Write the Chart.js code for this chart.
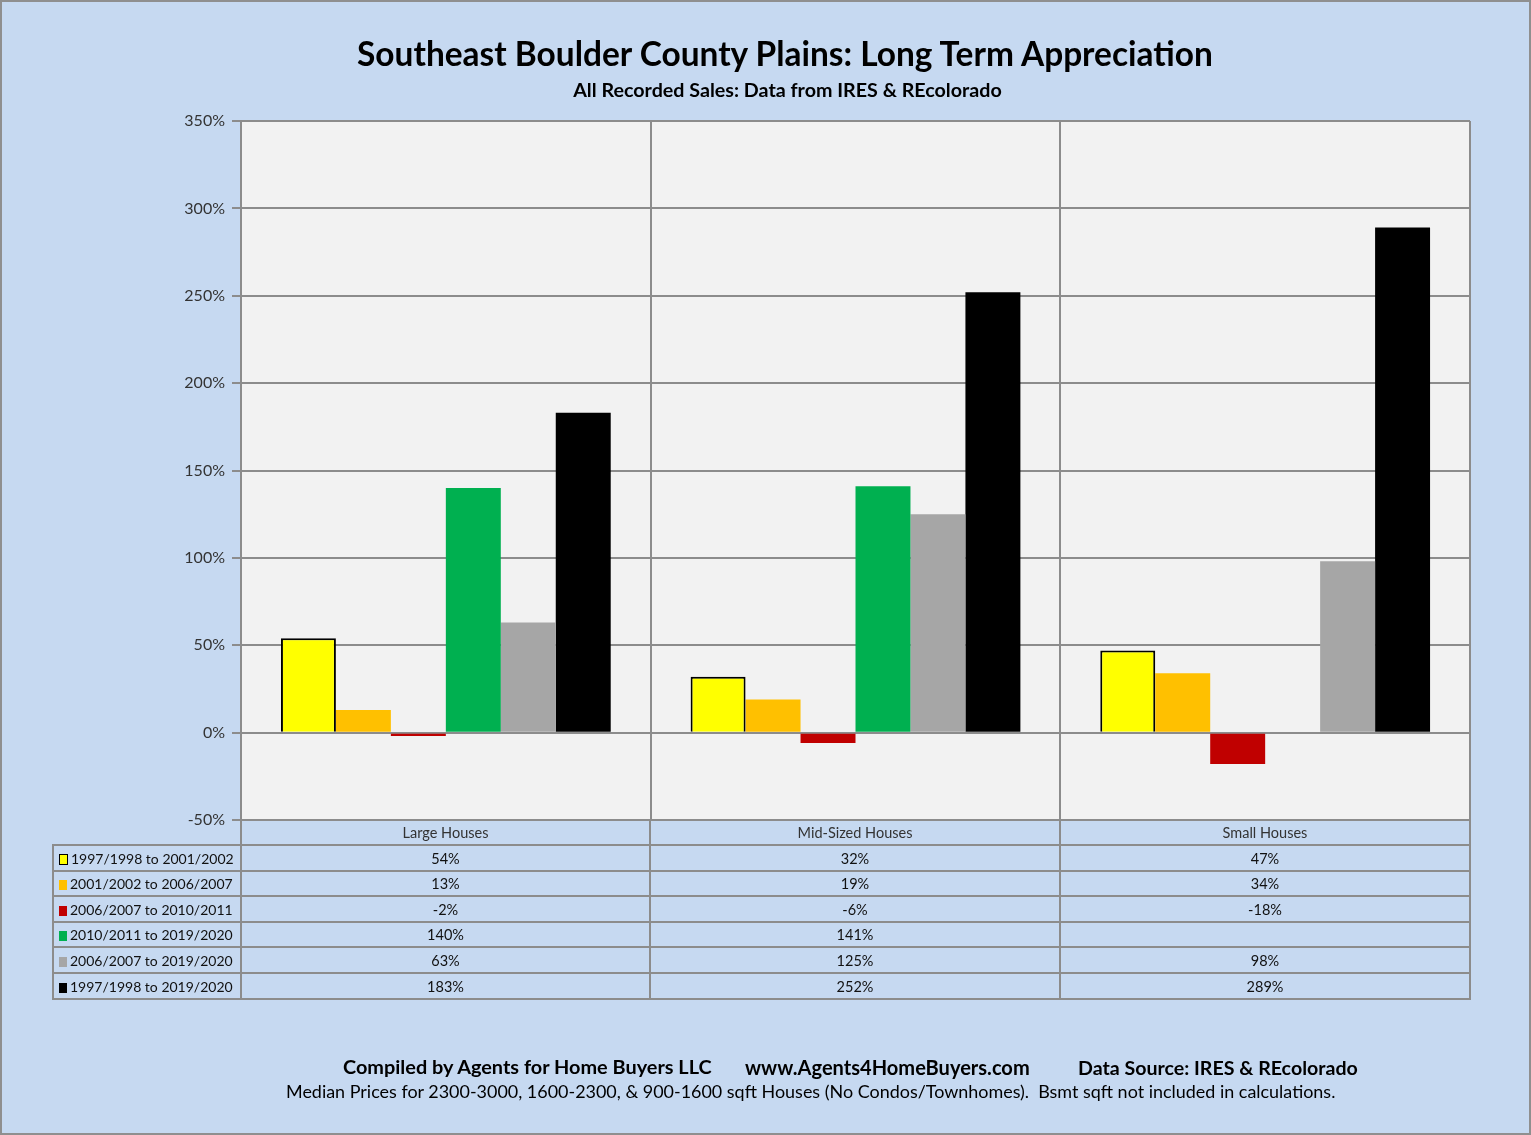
<!DOCTYPE html>
<html lang="en">
<head>
<meta charset="UTF-8">
<title>Southeast Boulder County Plains: Long Term Appreciation</title>
<script src="https://cdn.jsdelivr.net/npm/chart.js@4.4.1/dist/chart.umd.min.js"></script>
<style>
  html, body { margin: 0; padding: 0; }
  body { width: 1531px; height: 1135px; overflow: hidden; position: relative;
         font-family: Lato, "Open Sans", sans-serif; }
  #frame { position: absolute; left: 0; top: 0; width: 1531px; height: 1135px;
           box-sizing: border-box; border: 2px solid #8f8f8f; background: #c6d9f1; }
  #chart { position: absolute; left: 0; top: 0; }
  .txt { position: absolute; white-space: nowrap; line-height: 1; color: #000; }
  .bold { font-weight: bold; }

  #dataTable { position: absolute; left: 52px; top: 819px; border-collapse: collapse;
               table-layout: fixed; font-size: 14.5px; color: #111; }
  #dataTable td, #dataTable th { border: 2px solid #8c8c8c; padding: 0; text-align: center;
               font-weight: normal; white-space: nowrap; }
  #dataTable th { color: #333; }
  #dataTable th.blank { border-left: hidden; border-top: hidden; }
  #dataTable td.lbl { text-align: left; padding-left: 5px; font-size: 14px; }
  .key { display: inline-block; width: 8px; height: 10px; margin-right: 3px; vertical-align: -1px; box-sizing: border-box; }
</style>
</head>
<body>
<div id="frame"></div>
<canvas id="chart" width="1531" height="1135"></canvas>

<div class="txt bold" id="title">Southeast Boulder County Plains: Long Term Appreciation</div>
<div class="txt bold" id="subtitle">All Recorded Sales: Data from IRES &amp; REcolorado</div>

<table id="dataTable"></table>

<div class="txt bold" id="foot1">Compiled by Agents for Home Buyers LLC</div>
<div class="txt bold" id="foot2">www.Agents4HomeBuyers.com</div>
<div class="txt bold" id="foot3">Data Source: IRES &amp; REcolorado</div>
<div class="txt" id="foot4">Median Prices for 2300-3000, 1600-2300, &amp; 900-1600 sqft Houses (No Condos/Townhomes).&nbsp; Bsmt sqft not included in calculations.</div>

<script>
  // categories and series (percent appreciation)
  var categories = ["Large Houses", "Mid-Sized Houses", "Small Houses"];
  var seriesNames = [
    "1997/1998 to 2001/2002",
    "2001/2002 to 2006/2007",
    "2006/2007 to 2010/2011",
    "2010/2011 to 2019/2020",
    "2006/2007 to 2019/2020",
    "1997/1998 to 2019/2020"
  ];
  var s9802 = [54, 32, 47];
  var s0207 = [13, 19, 34];
  var s0711 = [-2, -6, -18];
  var s1120 = [140, 141, null];
  var s0720 = [63, 125, 98];
  var s9820 = [183, 252, 289];
  var seriesValues = [s9802, s0207, s0711, s1120, s0720, s9820];

  var yTicks = [-50, 0, 50, 100, 150, 200, 250, 300, 350];

  var seriesColors = ["#ffff00", "#ffc000", "#c00000", "#00b050", "#a6a6a6", "#000000"];

  // plot area edges in page pixels
  var plotLeft = 241, plotRight = 1470, plotTop = 121, plotBottom = 820;
  var gridColor = "#8c8c8c";

  // text placement helpers
  function fitWidth(id, w) {
    var el = document.getElementById(id);
    var fs = parseFloat(getComputedStyle(el).fontSize);
    el.style.fontSize = (fs * w / el.getBoundingClientRect().width) + "px";
    return el;
  }
  function place(id, opts) {
    var el = document.getElementById(id);
    el.style.fontSize = opts.size + "px";
    if (opts.width) fitWidth(id, opts.width);
    var fs = parseFloat(el.style.fontSize);
    var w = el.getBoundingClientRect().width;
    var left = opts.center !== undefined ? opts.center - w / 2 : opts.left;
    el.style.left = left + "px";
    el.style.top = (opts.baseline - 0.887 * fs) + "px";
  }

  place("title", { size: 32, width: 856, center: 785, baseline: 67 });
  place("subtitle", { size: 18, width: 429, center: 787.5, baseline: 97 });
  place("foot1", { size: 18, width: 369, left: 343, baseline: 1075 });
  place("foot2", { size: 18, width: 285, left: 745, baseline: 1075 });
  place("foot3", { size: 18, width: 280, left: 1078, baseline: 1075 });
  place("foot4", { size: 17, width: 1050, left: 286, baseline: 1099 });

  // data table under the plot
  var table = document.getElementById("dataTable");
  var colWidths = [188, 409, 410, 410];
  var rowHeights = [25, 26, 25, 26, 25, 26, 26];
  var colgroup = "<colgroup>" + colWidths.map(function (w) { return '<col style="width:' + w + 'px">'; }).join("") + "</colgroup>";
  var html = colgroup + '<tr style="height:' + rowHeights[0] + 'px"><th class="blank"></th>';
  categories.forEach(function (c) { html += "<th>" + c + "</th>"; });
  html += "</tr>";
  seriesNames.forEach(function (name, i) {
    var keyStyle = "background:" + seriesColors[i] + ";";
    if (i === 0) keyStyle += "border:1.5px solid #000;width:9px;height:11px;";
    html += '<tr style="height:' + rowHeights[i + 1] + 'px"><td class="lbl"><span class="key" style="' + keyStyle + '"></span>' + name + "</td>";
    seriesValues[i].forEach(function (v) {
      html += "<td>" + (v === null ? "" : v + "%") + "</td>";
    });
    html += "</tr>";
  });
  table.innerHTML = html;

  // plot area background
  var plotBackground = {
    id: "plotBackground",
    beforeDraw: function (chart) {
      var a = chart.chartArea, ctx = chart.ctx;
      ctx.save();
      ctx.fillStyle = "#f2f2f2";
      ctx.fillRect(a.left, a.top, a.right - a.left, a.bottom - a.top);
      ctx.restore();
    }
  };

  var datasets = seriesNames.map(function (name, i) {
    return {
      label: name,
      data: seriesValues[i],
      backgroundColor: seriesColors[i],
      borderColor: i === 0 ? "#000000" : seriesColors[i],
      borderWidth: i === 0 ? 2 : 0,
      categoryPercentage: 0.805,
      barPercentage: 1.0
    };
  });

  var ctx = document.getElementById("chart").getContext("2d");
  var chart = new Chart(ctx, {
    type: "bar",
    data: { labels: categories, datasets: datasets },
    options: {
      responsive: false,
      animation: false,
      devicePixelRatio: 1,
      layout: {
        padding: { left: 150, top: plotTop, right: 1531 - plotRight, bottom: 1135 - plotBottom }
      },
      plugins: {
        legend: { display: false },
        tooltip: { enabled: false },
        title: { display: false }
      },
      scales: {
        x: {
          grid: { offset: true, color: gridColor, lineWidth: 2, drawTicks: false },
          border: { display: true, color: gridColor, width: 2 },
          ticks: { display: false },
          afterFit: function (scale) { scale.height = 0; }
        },
        y: {
          min: -50,
          max: 350,
          afterBuildTicks: function (scale) {
            scale.ticks = yTicks.map(function (v) { return { value: v }; });
          },
          grid: { color: gridColor, lineWidth: 2, tickLength: 9 },
          border: { display: true, color: gridColor, width: 2 },
          ticks: {
            padding: 7,
            color: "#333333",
            font: { family: "Lato", size: 16 },
            callback: function (v) { return v + "%"; }
          },
          afterFit: function (scale) { scale.width = plotLeft - 150; }
        }
      }
    },
    plugins: [plotBackground]
  });
</script>
</body>
</html>
